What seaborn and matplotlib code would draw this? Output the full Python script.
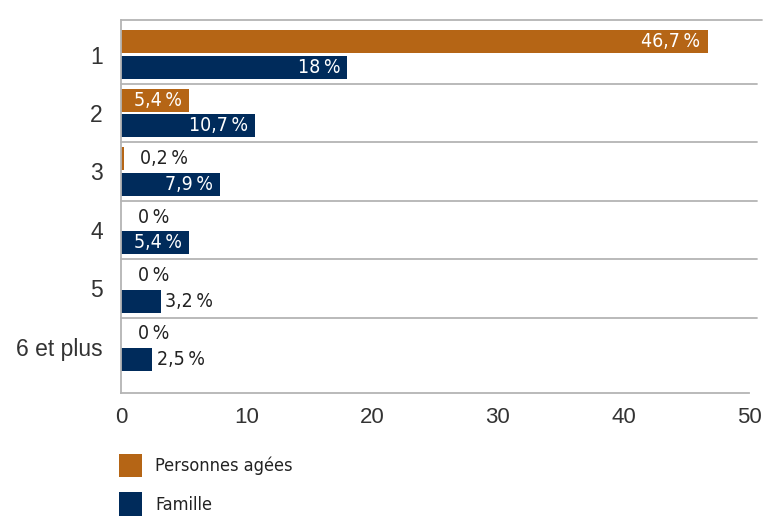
import matplotlib
matplotlib.use("Agg")
import matplotlib.pyplot as plt
import pandas as pd
import seaborn as sns

# Data
categories = ["1", "2", "3", "4", "5", "6 et plus"]
personnes_agees = [46.7, 5.4, 0.2, 0, 0, 0]
famille = [18, 10.7, 7.9, 5.4, 3.2, 2.5]
series_names = ["Personnes agées", "Famille"]
x_ticks = [0, 10, 20, 30, 40, 50]

ORANGE = "#B56515"
NAVY = "#002B5B"
GRID = "#B4B4B4"

df = pd.DataFrame({
    "nb": categories * 2,
    "pct": personnes_agees + famille,
    "groupe": [series_names[0]] * len(categories) + [series_names[1]] * len(categories),
})

sns.set_style("white")
plt.rcParams["font.family"] = ["DejaVu Sans"]
plt.rcParams["font.stretch"] = "condensed"

fig = plt.figure(figsize=(7.67, 5.16), dpi=100)
ax = fig.add_axes([0.1578, 0.2384, 0.8187, 0.7228])

sns.barplot(data=df, x="pct", y="nb", hue="groupe", orient="h",
            palette=[ORANGE, NAVY], saturation=1, width=0.88, gap=0.11,
            linewidth=0, order=categories, hue_order=series_names, ax=ax)

ax.set_xlim(0, 50)
ax.set_ylim(5.79, -0.59)
ax.set_xticks(x_ticks)
ax.set_xlabel("")
ax.set_ylabel("")

# separators between groups
for i in range(len(categories)):
    ax.axhline(i - 0.5 if i else -0.59, xmin=0, xmax=1.012 if i else 1.02,
               color=GRID, lw=1.3, clip_on=False, zorder=0)

for side in ["top", "right"]:
    ax.spines[side].set_visible(False)
for side in ["left", "bottom"]:
    ax.spines[side].set_color(GRID)
    ax.spines[side].set_linewidth(1.3)

ax.tick_params(axis="x", direction="in", length=7, color=GRID, width=1.1,
               labelsize=16, labelcolor="#333333", pad=10)
ax.tick_params(axis="y", length=0, labelsize=16.5, labelcolor="#333333", pad=13)
for lab in ax.get_xticklabels() + ax.get_yticklabels():
    lab.set_family(["Liberation Sans", "DejaVu Sans"])
    lab.set_stretch("normal")

# value labels
for cont in ax.containers:
    for bar in cont:
        v = bar.get_width()
        yc = bar.get_y() + bar.get_height() / 2
        txt = f"{v:g}".replace(".", ",") + "\u2009%"
        if v >= 5:
            ax.annotate(txt, xy=(v, yc), xytext=(-5, 0), textcoords="offset points",
                        ha="right", va="center", color="white", fontsize=14)
        else:
            pad = 12 if v < 1 else 3
            ax.annotate(txt, xy=(v, yc), xytext=(pad, 0), textcoords="offset points",
                        ha="left", va="center", color="#222222", fontsize=14)

leg = ax.legend(loc="upper left", bbox_to_anchor=(-0.003, -0.163), frameon=False,
                fontsize=13, handlelength=1.25, handleheight=1.6, handletextpad=0.75,
                labelspacing=0.85, borderaxespad=0, borderpad=0)
for t in leg.get_texts():
    t.set_color("#222222")

fig.savefig("out.png", dpi=100)
